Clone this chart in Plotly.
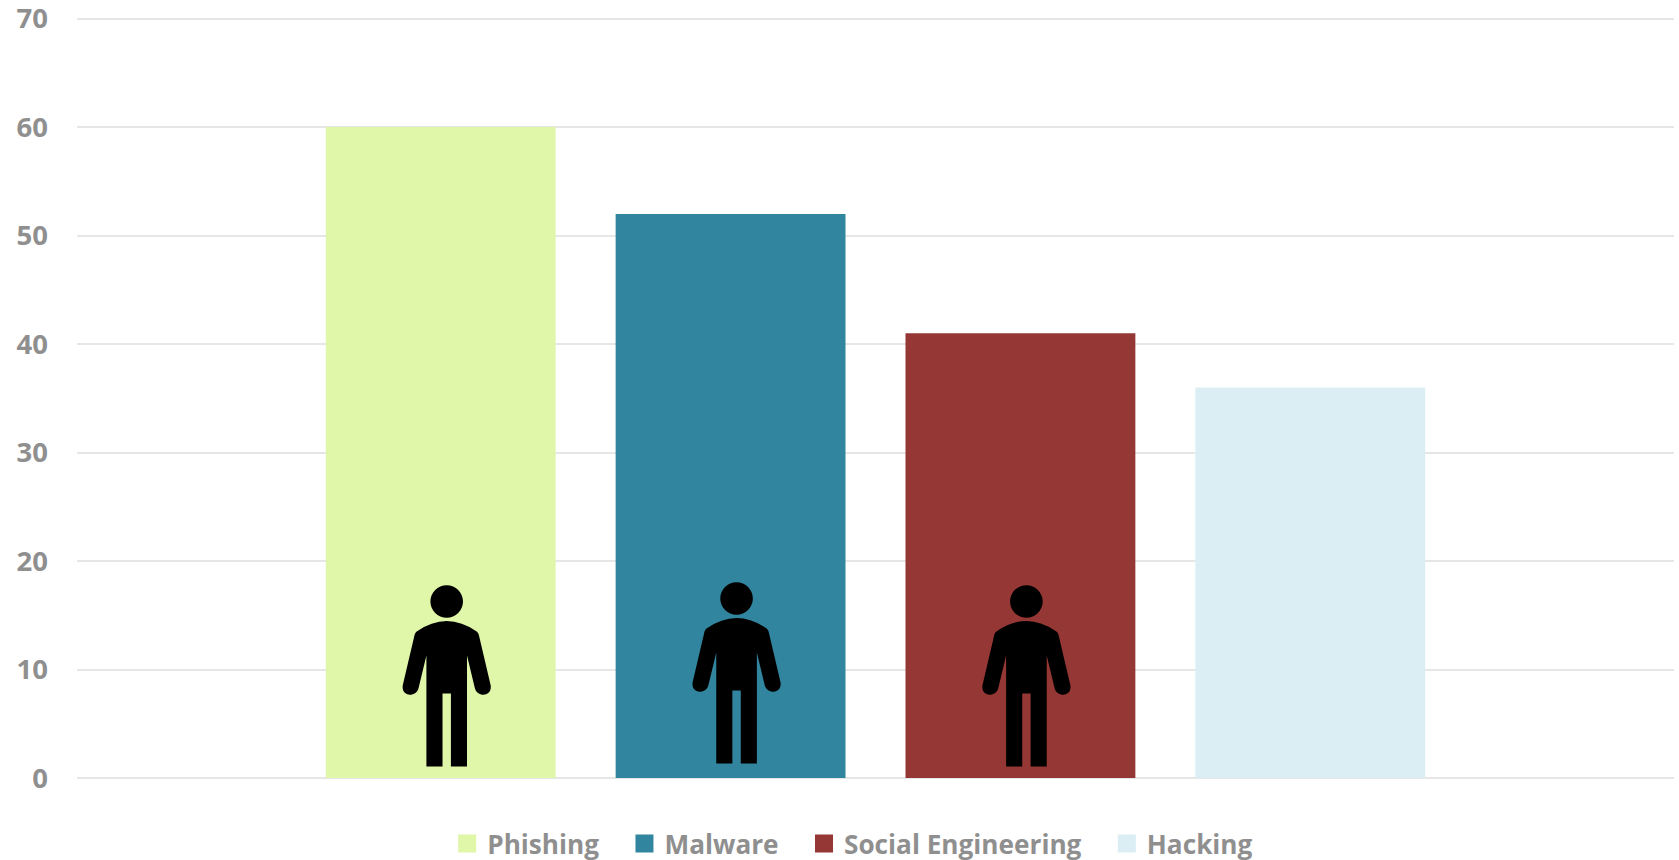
import plotly.graph_objects as go

categories = ["Phishing", "Malware", "Social Engineering", "Hacking"]
values = [60, 52, 41, 36]
colors = ["#e0f6a8", "#31859f", "#953735", "#dbeef4"]
y_ticks = [0, 10, 20, 30, 40, 50, 60, 70]
person_on = [True, True, True, False]
person_lift = [-0.5, 2.5, -0.5, 0]

TEXT = "#8f8f8f"
GRID = "#e6e6e6"
FONT = "Open Sans"
BARGAP = 0.274
GROUPGAP = 0.207
PAD = "\u00a0\u00a0\u00a0"


def person_path(lift):
    def y(v):
        return v + lift
    r = 16.3
    k = 0.5523 * r
    c = 177
    return (
        f"M-20.3,{y(12)} L-20.3,{y(123)} L-28,{y(91)} "
        f"C-30,{y(81)} -45.5,{y(81)} -44,{y(93)} L-32.5,{y(142)} "
        f"C-32,{y(145)} -31,{y(146)} -30,{y(147)} Q0,{y(168)} 30,{y(147)} "
        f"C31,{y(146)} 32,{y(145)} 32.5,{y(142)} L44,{y(93)} "
        f"C45.5,{y(81)} 30,{y(81)} 28,{y(91)} L20.3,{y(123)} L20.3,{y(12)} "
        f"L4.2,{y(12)} L4.2,{y(85)} L-4.2,{y(85)} L-4.2,{y(12)} Z "
        f"M{-r},{y(c)} C{-r},{y(c + k)} {-k},{y(c + r)} 0,{y(c + r)} "
        f"C{k},{y(c + r)} {r},{y(c + k)} {r},{y(c)} "
        f"C{r},{y(c - k)} {k},{y(c - r)} 0,{y(c - r)} "
        f"C{-k},{y(c - r)} {-r},{y(c - k)} {-r},{y(c)} Z"
    )


fig = go.Figure()
for name, value, color in zip(categories, values, colors):
    fig.add_trace(go.Bar(name=name, x=[0], y=[value], showlegend=False,
                         marker=dict(color=color, line_width=0)))
for name, color in zip(categories, colors):
    fig.add_trace(go.Scatter(name=name + PAD, x=[None], y=[None], mode="markers",
                             marker=dict(symbol="square", size=16, color=color,
                                         line=dict(color=color, width=2))))

pitch = (1 - BARGAP) / len(categories)
shapes = []
for i, (on, lift) in enumerate(zip(person_on, person_lift)):
    if on:
        shapes.append(dict(
            type="path", xref="x", yref="y", xsizemode="pixel", ysizemode="pixel",
            xanchor=(i - 1.5) * pitch + 6 / 1598, yanchor=0,
            path=person_path(lift), fillcolor="#000000", line_width=0, layer="above",
        ))

fig.update_layout(
    width=1679, height=880,
    margin=dict(l=76.5, r=4.5, t=17.4, b=101.5, autoexpand=False),
    paper_bgcolor="#ffffff", plot_bgcolor="#ffffff",
    barmode="group", bargap=BARGAP, bargroupgap=GROUPGAP,
    font=dict(family=FONT, color=TEXT, size=26.2),
    xaxis=dict(range=[-0.5, 0.5], showticklabels=False, showgrid=False, zeroline=False,
               showline=False, ticks="", automargin=False),
    yaxis=dict(range=[0, 70.15], tickvals=y_ticks, showgrid=True, gridcolor=GRID, gridwidth=2,
               zeroline=True, zerolinecolor=GRID, zerolinewidth=2, showline=False, ticks="",
               ticklabelstandoff=28, ticklabeloverflow="allow", automargin=False,
               tickfont=dict(family=FONT, size=27.5, color=TEXT, weight=700)),
    legend=dict(orientation="h", x=0.2318, xanchor="left", y=-0.0867, yanchor="middle",
                font=dict(family=FONT, size=26.2, color=TEXT, weight=700),
                itemclick=False, itemdoubleclick=False, traceorder="normal"),
    shapes=shapes,
    showlegend=True,
)
fig.write_html("out.html", config={"displayModeBar": False},
               post_script="document.body.style.margin='0';document.documentElement.style.overflow='hidden';document.body.style.overflow='hidden';")
